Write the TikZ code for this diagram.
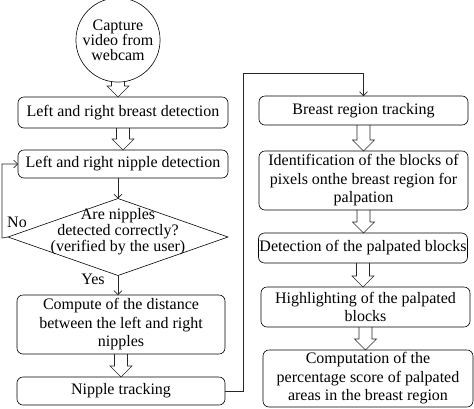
\documentclass[tikz,border=0pt]{standalone}
\usepackage{fontspec}
\setmainfont{Liberation Serif}
\usetikzlibrary{positioning,arrows.meta,shapes.geometric,calc}
\tikzset{
    font = \fontsize{16}{18.5}\selectfont,
    every node/.style = {
        inner sep = 1pt,
        outer sep = 0pt
    },
    stepbox/.style = {
        draw,
        rounded corners = 6pt,
        align = center,
        line width = 0.6pt
    },
    source/.style = {
        draw,
        circle,
        align = center,
        minimum size = 74pt,
        line width = 0.6pt,
        font = \fontsize{16}{14.5}\selectfont
    },
    check/.style = {
        draw,
        diamond,
        aspect = 2.86,
        align = center,
        inner sep = -10pt,
        text depth = 14pt,
        minimum width = 220pt,
        minimum height = 77pt,
        line width = 0.6pt,
        font = \fontsize{16}{13.8}\selectfont
    },
    trace/.style = {
        ->,
        > = {Straight Barb[length=4pt,width=8pt]},
        line width = 0.6pt,
        black!85
    },
    hollow/.style = {
        line width = 0.6pt,
        black!85
    }
}
\newcommand{\hollowarrow}[2]{%
    \draw[hollow] let \p1 = (#1.south), \p2 = (#2.north) in
        (\x1-6.5pt,\y1) -- (\x1-6.5pt,\y2+11pt) -- (\x1-11pt,\y2+11pt) -- (\x1,\y2)
        -- (\x1+11pt,\y2+11pt) -- (\x1+6.5pt,\y2+11pt) -- (\x1+6.5pt,\y1);}

\begin{document}
\begin{tikzpicture}
    \useasboundingbox (0,0) rectangle (474pt,-408pt);
    % left column
    \node (cam) at (118pt,-40pt) [source]{Capture\\video from\\webcam};
    \node (breast) at (123pt,-112.5pt) [stepbox, minimum width=210pt, minimum height=31pt]{Left and right breast detection};
    \node (nipple) at (123pt,-164pt) [stepbox, minimum width=210pt, minimum height=28pt]{Left and right nipple detection};
    \node (check) at (118pt,-237pt) [check]{Are nipples\\detected correctly?\\(verified by the user)};
    \node (dist) at (121pt,-324.5pt) [stepbox, minimum width=208pt, minimum height=59pt]{Compute of the distance\\between the left and right\\nipples};
    \node (track) at (121pt,-391pt) [stepbox, minimum width=208pt, minimum height=28pt]{Nipple tracking};
    \node (no) at (17pt,-222pt) {No};
    \node (yes) at (93pt,-279pt) {Yes};
    % right column
    \node (region) at (363.5pt,-110.5pt) [stepbox, minimum width=209pt, minimum height=29pt]{Breast region tracking};
    \node (ident) at (363.5pt,-180.5pt) [stepbox, minimum width=209pt, minimum height=59pt]{Identification of the blocks of\\pixels onthe breast region for\\palpation};
    \node (detect) at (363pt,-248pt) [stepbox, minimum width=208pt, minimum height=30pt]{Detection of the palpated blocks};
    \node (light) at (365.5pt,-307pt) [stepbox, minimum width=209pt, minimum height=40pt]{Highlighting of the palpated\\blocks};
    \node (score) at (368pt,-378.5pt) [stepbox, minimum width=210pt, minimum height=57pt]{Computation of the\\percentage score of palpated\\areas in the breast region};
    \coordinate (loop) at (2pt,-238pt);
    \coordinate (bend) at (243pt,-73pt);
    % connectors
    \hollowarrow{cam}{breast}
    \hollowarrow{breast}{nipple}
    \hollowarrow{dist}{track}
    \hollowarrow{region}{ident}
    \hollowarrow{ident}{detect}
    \hollowarrow{detect}{light}
    \hollowarrow{light}{score}
    \draw[trace] (nipple.south -| check.north) -- (check.north);
    \draw[trace] (check.south) -- (dist.north -| check.south);
    \draw[trace] (check.west) -- (loop) |- (nipple.west);
    \draw[trace] (track.east) -| (bend) -| (region.north);
\end{tikzpicture}
\end{document}
